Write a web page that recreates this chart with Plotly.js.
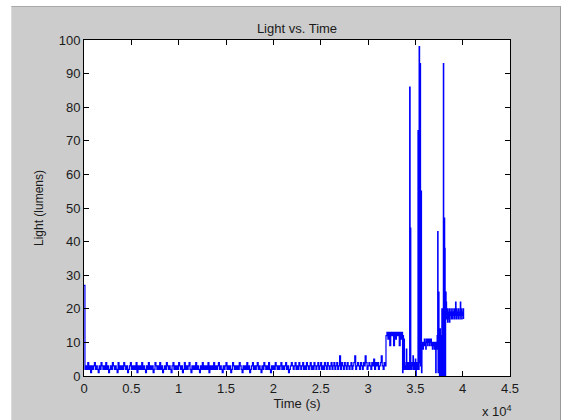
<!DOCTYPE html>
<html>
<head>
<meta charset="utf-8">
<script src="https://cdn.plot.ly/plotly-3.0.1.min.js"></script>
<style>
  html, body { margin: 0; padding: 0; background: #ffffff; width: 564px; height: 420px; overflow: hidden; }
  #frame { position: absolute; left: 11px; top: 6px; width: 548px; height: 414px; background: #cccccc;
           border-top: 1px solid #a8a8a8; border-right: 1px solid #9a9a9a; border-left: 1px solid #dcdcdc; }
  #chart { position: absolute; left: 0; top: 0; width: 564px; height: 420px; }
</style>
</head>
<body>
<div id="frame"></div>
<div id="chart"></div>
<script>
// ---- Data ----
// Quiet period: samples every 100 s from t = 0 s to t = 31800 s
const quietStart = 0;
const quietStep = 100;
const quietLight = [
  27,
  2,3,2,4,2,3,1,3,2,3,4,2,3,2,1,3,2,4,3,2,
  3,2,4,2,3,1,2,3,2,4,3,2,3,2,1,4,2,3,2,3,
  2,4,3,2,3,1,2,3,4,2,3,2,3,2,4,1,3,2,3,2,
  4,2,3,2,1,3,2,4,2,3,2,3,1,2,4,3,2,3,2,4,
  2,3,1,2,3,2,4,3,2,3,2,1,3,4,2,3,2,3,2,4,
  3,2,3,1,2,4,2,3,2,3,4,2,1,3,2,3,2,4,2,3,
  2,1,3,2,4,2,3,2,3,2,4,1,3,2,3,2,4,2,3,2,
  3,4,2,3,2,1,3,2,3,4,2,3,2,3,1,2,4,3,2,3,
  2,3,2,4,3,2,1,3,2,3,2,4,2,3,1,2,3,4,2,3,
  2,3,4,2,3,2,1,3,2,4,3,2,3,2,4,2,1,3,2,3,
  2,4,3,2,3,2,3,4,2,3,2,3,4,2,3,1,2,3,4,3,
  2,3,4,2,3,2,4,3,2,3,4,2,3,2,4,3,2,3,4,2,
  3,2,4,3,2,3,4,2,3,4,2,3,2,4,3,2,4,3,2,3,
  4,2,3,4,2,3,4,2,3,6,2,4,3,2,4,3,2,4,3,2,
  3,4,2,3,4,6,2,3,4,3,2,4,3,2,4,3,6,4,2,3,
  4,3,2,4,3,5,2,4,3,4,2,3,4,6,3,2,4,3
];

// Active period: irregular times (s) and light (lumens)
const activeTime = [
  31900,32000,32100,32200,32300,32400,32500,32600,32700,32800,32900,33000,33100,33200,33300,33400,33500,33600,
  33650,33700,33750,33800,33850,33900,34000,34050,34100,34150,34200,34250,34300,34350,
  34400,34450,34470,34520,34600,34650,34700,34750,34800,34850,34900,34950,35000,35050,35100,35150,35200,
  35280,35330,35400,35450,35500,35550,35600,35650,
  35700,35750,35800,35850,35900,35950,36000,36050,36100,36150,36200,36250,36300,36350,36400,36450,
  36500,36550,36600,36650,36700,36750,36800,36850,36900,36950,37000,37050,37100,37150,37200,37250,
  37300,37360,37400,37450,37500,37550,37600,37650,37700,37750,37800,37850,37900,37960,38000,
  38060,38100,38150,38200,38250,
  38300,38350,38400,38450,38500,38550,38600,38650,38700,38750,38800,38850,38900,38950,39000,
  39050,39100,39150,39200,39250,39300,39350,39400,39450,39500,39550,39600,39650,39700,39750,
  39800,39850,39900,39950,40000,40050,40100
];
const activeLight = [
  12,13,11,13,9,13,12,13,9,13,11,13,12,13,9,13,11,13,
  1,12,2,11,3,2,4,8,2,4,3,2,4,2,
  86,2,44,3,2,4,3,6,2,4,3,2,5,0,4,2,3,
  73,2,98,4,93,3,55,1,
  9,10,8,10,9,11,9,10,8,11,10,11,9,11,10,11,
  9,11,10,11,9,10,8,10,9,10,8,10,9,1,10,8,
  12,43,1,25,9,0,14,10,0,12,20,0,16,93,0,
  47,38,0,25,22,
  17,20,16,19,17,20,16,19,18,20,17,19,17,20,18,
  19,17,20,18,22,17,20,18,19,17,20,18,19,17,22,
  18,20,17,19,18,20,17
];

const tickVals = [0,5000,10000,15000,20000,25000,30000,35000,40000,45000];
const tickText = ['0','0.5','1','1.5','2','2.5','3','3.5','4','4.5'];

// ---- Build series ----
const timeAll = [];
const lightAll = [];
quietLight.forEach((v, i) => { timeAll.push(quietStart + i * quietStep); lightAll.push(v); });
activeTime.forEach((t, i) => { timeAll.push(t); lightAll.push(activeLight[i]); });

const font = 'Liberation Sans, Arial, Helvetica, sans-serif';

const trace = {
  type: 'scatter', mode: 'lines',
  x: timeAll, y: lightAll,
  line: { color: '#0000ff', width: 1.2, shape: 'hv' },
  hoverinfo: 'skip'
};

const axisCommon = {
  showgrid: false, zeroline: false,
  showline: true, linecolor: '#000000', linewidth: 1,
  mirror: 'ticks', ticks: 'inside', ticklen: 5, tickwidth: 1, tickcolor: '#000000',
  tickfont: { family: font, size: 13, color: '#1a1a1a' }
};

const layout = {
  width: 564, height: 420,
  margin: { l: 84, r: 54, t: 40, b: 44 },
  paper_bgcolor: 'rgba(0,0,0,0)',
  plot_bgcolor: '#ffffff',
  showlegend: false,
  title: {
    text: 'Light vs. Time',
    font: { family: font, size: 13, color: '#1a1a1a' },
    xref: 'paper', x: 0.5, xanchor: 'center',
    yref: 'container', y: 1 - 28 / 420, yanchor: 'middle'
  },
  xaxis: Object.assign({}, axisCommon, {
    range: [0, 45000],
    tickmode: 'array', tickvals: tickVals, ticktext: tickText,
    title: { text: 'Time (s)', font: { family: font, size: 13, color: '#1a1a1a' }, standoff: 4 }
  }),
  yaxis: Object.assign({}, axisCommon, {
    range: [0, 100], dtick: 10, tick0: 0,
    title: { text: 'Light (lumens)', font: { family: font, size: 12, color: '#1a1a1a' }, standoff: 12 }
  }),
  annotations: [{
    text: 'x 10<sup>4</sup>', showarrow: false,
    xref: 'paper', yref: 'paper', x: 1.01, y: -0.104,
    xanchor: 'right', yanchor: 'middle',
    font: { family: font, size: 13, color: '#1a1a1a' }
  }]
};

Plotly.newPlot('chart', [trace], layout, { displayModeBar: false, staticPlot: true });
</script>
</body>
</html>
